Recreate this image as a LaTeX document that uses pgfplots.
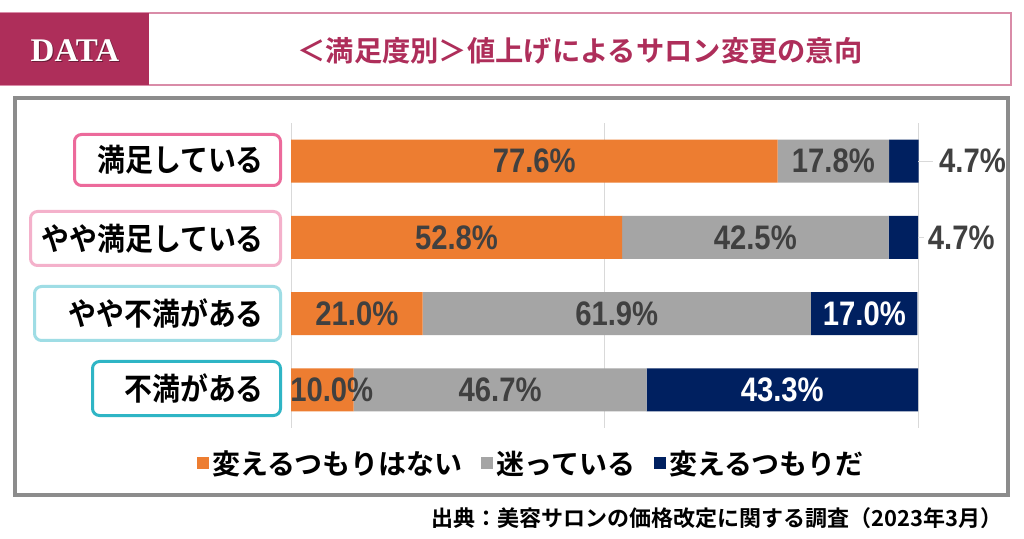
\documentclass[border=0pt]{standalone}
\usepackage{fontspec}
\usepackage{pgfplots}
\pgfplotsset{compat=1.18}
\setmainfont{Liberation Sans}
\newfontfamily\jpfont[FakeStretch=0.9]{Noto Sans CJK JP Bold}
\newfontfamily\jpplain{Noto Sans CJK JP Bold}
\newfontfamily\numfont[FakeStretch=0.86]{Liberation Sans Bold}
\newfontfamily\datafont{Liberation Serif}

\definecolor{crimson}{HTML}{AE2E5A}
\definecolor{hdrpink}{HTML}{D98CA8}
\definecolor{framegray}{HTML}{8C8C8C}
\definecolor{orangec}{HTML}{ED7D31}
\definecolor{grayc}{HTML}{A5A5A5}
\definecolor{navyc}{HTML}{002060}
\definecolor{gridc}{HTML}{D9D9D9}
\definecolor{labgray}{HTML}{404040}
\definecolor{boxA}{HTML}{EC6A9B}
\definecolor{boxB}{HTML}{F4B1CB}
\definecolor{boxC}{HTML}{9FDDE5}
\definecolor{boxD}{HTML}{2FB5C5}

\tikzset{lbl/.style={font=\numfont\fontsize{34}{34}\selectfont, text=labgray, inner sep=0pt}}

\begin{document}
\begin{tikzpicture}
\begin{scope}[x=1pt,y=1pt]
\useasboundingbox (0,0) rectangle (1024,538);
\fill[white] (0,0) rectangle (1024,538);

% header band
\draw[hdrpink, line width=1.2pt] (0,453) rectangle (1011,525);
\fill[crimson] (0,453) rectangle (149,525);
\node[text=crimson!60!black, font=\datafont\bfseries\fontsize{33}{33}\selectfont] at (76,486.5) {DATA};
\node[text=white, font=\datafont\bfseries\fontsize{33}{33}\selectfont] at (75,487.5) {DATA};
\node[text=crimson, font=\jpplain\fontsize{28.3}{28.3}\selectfont] at (580,487) {＜満足度別＞値上げによるサロン変更の意向};

% outer frame
\draw[framegray, line width=4pt] (14.5,43) rectangle (1008,440);

% category boxes
\draw[boxA, line width=3pt, rounded corners=7pt] (74.5,352.5) rectangle (280.5,403.5);
\draw[boxB, line width=3pt, rounded corners=7pt] (30.5,272.5) rectangle (280.5,326.5);
\draw[boxC, line width=3pt, rounded corners=7pt] (34.5,197.5) rectangle (280.5,251.5);
\draw[boxD, line width=3pt, rounded corners=7pt] (92.5,122.5) rectangle (280.5,176.5);
\begin{scope}[every node/.style={anchor=east, inner sep=0pt, font=\jpfont\fontsize{31}{31}\selectfont}]
\node at (264,378) {満足している};
\node at (264,299.5) {やや満足している};
\node at (264,224.5) {やや不満がある};
\node at (264,149.5) {不満がある};
\end{scope}

% source
\node[anchor=east, inner sep=0pt, font=\jpplain\fontsize{22}{22}\selectfont] at (1003,20) {出典：美容サロンの価格改定に関する調査（2023年3月）};
\end{scope}

\begin{axis}[
  at={(291pt,110pt)}, anchor=south west,
  scale only axis, width=627pt, height=305pt,
  xmin=0, xmax=100, ymin=-0.5, ymax=3.5,
  y dir=reverse,
  xbar stacked, bar width=43pt,
  axis line style={draw=none},
  xtick={0,50,100}, xticklabels={}, ytick=\empty,
  major tick length=0pt,
  xmajorgrids, grid style={gridc, line width=0.8pt},
  clip=false,
  legend columns=3,
  legend style={at={(0.384,-0.115)}, anchor=center, draw=none, fill=none,
    font=\jpplain\fontsize{28}{28}\selectfont,
    nodes={inner sep=3pt},
    /tikz/every even column/.append style={column sep=16pt}},
  legend image code/.code={\fill[#1] (0pt,-6pt) rectangle (12pt,6pt);},
]
\addplot[fill=orangec, draw=none] coordinates {(77.6,0) (52.8,1) (21.0,2) (10.0,3)};
\addlegendentry{変えるつもりはない}
\addplot[fill=grayc, draw=none] coordinates {(17.8,0) (42.5,1) (61.9,2) (46.7,3)};
\addlegendentry{迷っている}
\addplot[fill=navyc, draw=none] coordinates {(4.7,0) (4.7,1) (17.0,2) (43.3,3)};
\addlegendentry{変えるつもりだ}

% label anchors (segment centres)
\coordinate (a1) at (axis cs:38.8,0);
\coordinate (a2) at (axis cs:86.5,0);
\coordinate (a3) at (axis cs:108.7,0);
\coordinate (a3s) at (axis cs:100,0);
\coordinate (a3e) at (axis cs:102.4,0);
\coordinate (b1) at (axis cs:26.4,1);
\coordinate (b2) at (axis cs:74.05,1);
\coordinate (b3) at (axis cs:106.9,1);
\coordinate (b3s) at (axis cs:100,1);
\coordinate (b3e) at (axis cs:101,1);
\coordinate (c1) at (axis cs:10.5,2);
\coordinate (c2) at (axis cs:51.95,2);
\coordinate (c3) at (axis cs:91.45,2);
\coordinate (d1) at (axis cs:6.5,3);
\coordinate (d2) at (axis cs:33.35,3);
\coordinate (d3) at (axis cs:78.35,3);
\end{axis}

\node[lbl] at (a1) {77.6\%};
\node[lbl] at (a2) {17.8\%};
\node[lbl] at (a3) {4.7\%};
\draw[gridc, line width=1pt] (a3s) -- (a3e);
\node[lbl] at (b1) {52.8\%};
\node[lbl] at (b2) {42.5\%};
\node[lbl] at (b3) {4.7\%};
\draw[gridc, line width=1pt] (b3s) -- (b3e);
\node[lbl] at (c1) {21.0\%};
\node[lbl] at (c2) {61.9\%};
\node[lbl, text=white] at (c3) {17.0\%};
\node[lbl] at (d1) {10.0\%};
\node[lbl] at (d2) {46.7\%};
\node[lbl, text=white] at (d3) {43.3\%};
\end{tikzpicture}
\end{document}
